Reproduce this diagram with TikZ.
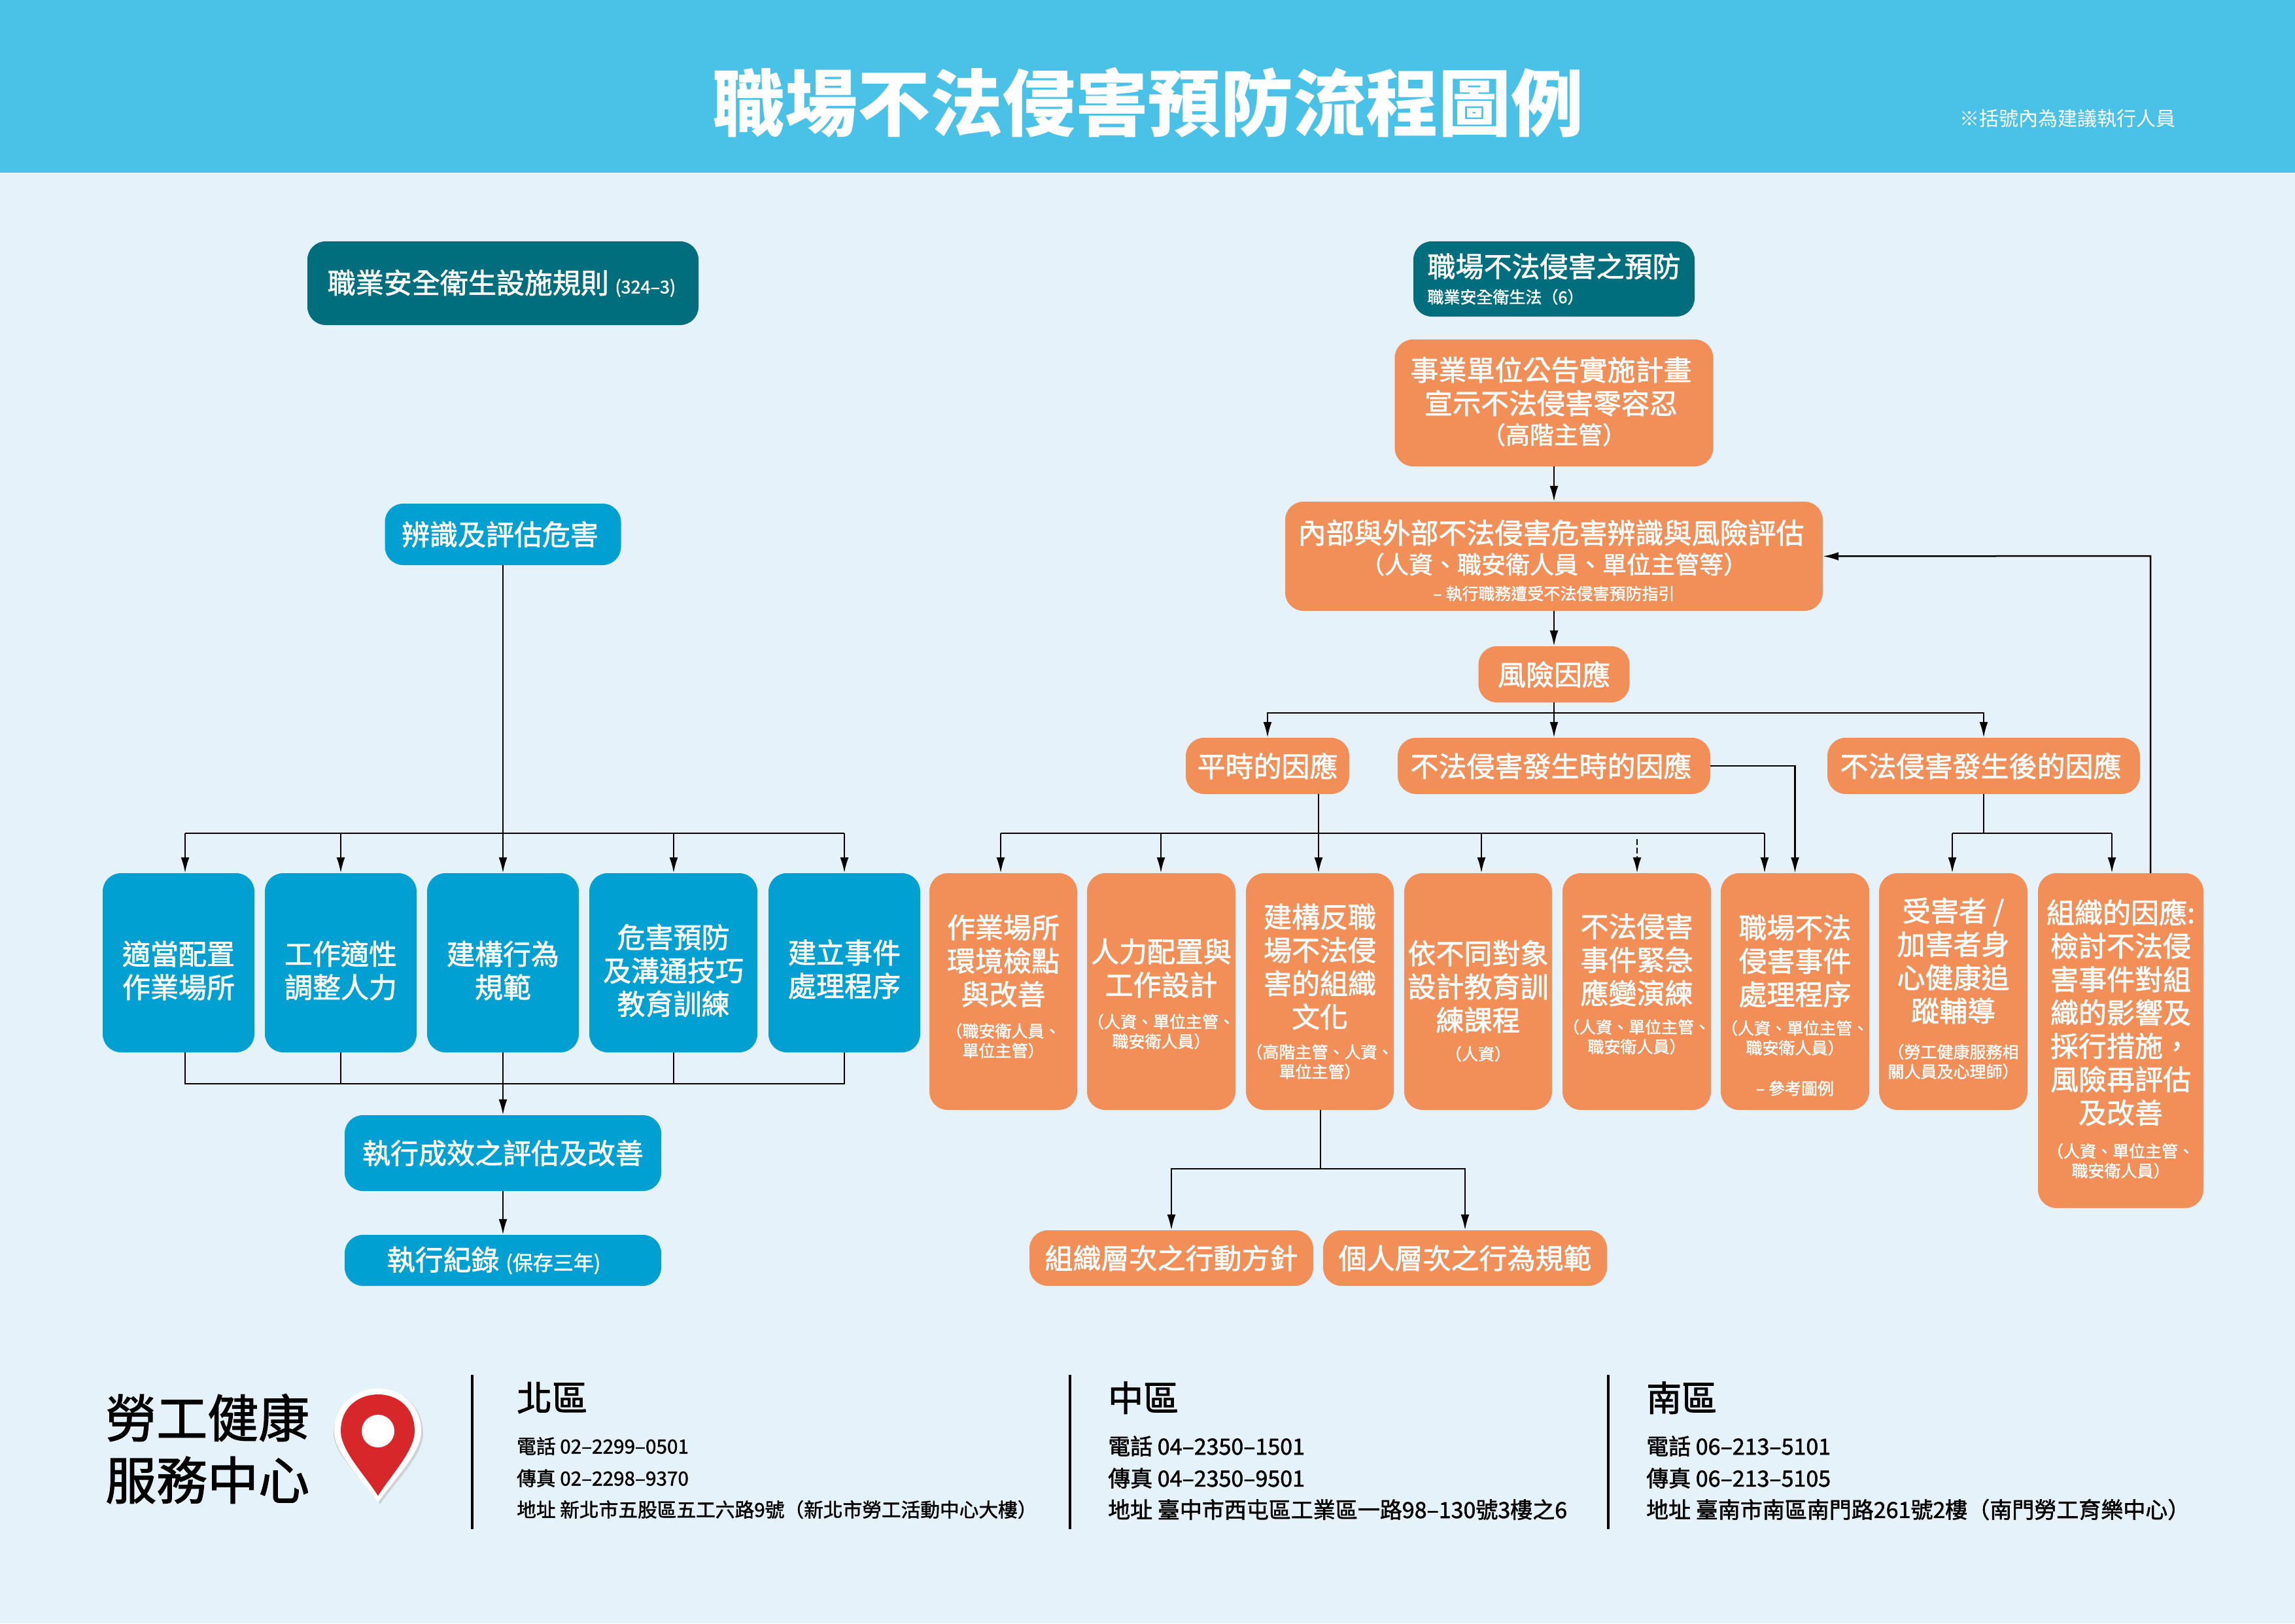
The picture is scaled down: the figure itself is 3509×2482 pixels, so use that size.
\documentclass[tikz,border=0pt]{standalone}
\usepackage{fontspec}
\setmainfont{Noto Sans CJK TC}
\newfontfamily\medfont{Noto Sans CJK TC}[FakeBold=1.6]
\usetikzlibrary{arrows.meta, positioning}
\definecolor{pagebg}{HTML}{E6F2F9}
\definecolor{headbg}{HTML}{4AC1E6}
\definecolor{tealfill}{HTML}{006E7C}
\definecolor{bluefill}{HTML}{00A0D3}
\definecolor{orangefill}{HTML}{F28E58}
\definecolor{pinred}{HTML}{D8272A}
\newcommand{\subtext}[1]{{\fontsize{25}{30}\selectfont #1}}
\newcommand{\midtext}[1]{{\fontsize{37}{45}\selectfont #1}}
\newcommand{\topgap}[1]{\rule{0pt}{#1pt}}
\newcommand{\botgap}[1]{\rule[-#1pt]{0pt}{0pt}}
\newcommand{\nudge}{\kern9pt}
\tikzset{
  flowbox/.style={rounded corners=28, text=white, inner sep=0, align=center,
    font=\fontsize{43}{51}\selectfont\medfont},
  tealbox/.style={flowbox, fill=tealfill},
  bluebox/.style={flowbox, fill=bluefill},
  orangebox/.style={flowbox, fill=orangefill},
  flowline/.style={line width=2.5},
  flowarrow/.style={flowline, -{Latex[length=24,width=13]}},
  infohead/.style={anchor=west, inner sep=0, font=\fontsize{54}{60}\selectfont\medfont},
  infoline/.style={anchor=west, inner sep=0, font=\fontsize{29.7}{36}\selectfont\medfont},
  infowide/.style={anchor=west, inner sep=0, font=\fontsize{34}{40}\selectfont\medfont}
}
\begin{document}
\begin{tikzpicture}[x=1pt, y=-1pt]
\useasboundingbox (0,0) rectangle (3509,2482);
\fill[pagebg] (0,0) rectangle (3509,2482);
\fill[headbg] (0,0) rectangle (3509,264);
\node[text=white, font=\fontsize{111}{120}\selectfont\bfseries] (title) at (1755,157) {職場不法侵害預防流程圖例};
\node[text=white, font=\fontsize{30}{36}\selectfont] (note) at (3161,181) {※括號內為建議執行人員};
\node[tealbox, minimum width=598, minimum height=128] (rules) at (769,433) {職業安全衛生設施規則 {\fontsize{27}{30}\selectfont (324–3)}\kern4pt};
\node[tealbox, minimum width=430, minimum height=115, align=left] (prevent) at (2376,426.5) {職場不法侵害之預防\\[-11pt]{\fontsize{25}{30}\selectfont 職業安全衛生法（6）}};
\node[orangebox, minimum width=487, minimum height=194] (plan) at (2376,616) {事業單位公告實施計畫\nudge\\宣示不法侵害零容忍\nudge\\[-5pt]\midtext{（高階主管）}\botgap{8}};
\node[orangebox, minimum width=822, minimum height=167] (inner) at (2376,850.5) {\topgap{49}內部與外部不法侵害危害辨識與風險評估\nudge\\[-5pt]\midtext{（人資、職安衛人員、單位主管等）}\\[-11pt]\subtext{– 執行職務遭受不法侵害預防指引}};
\node[orangebox, minimum width=231, minimum height=86] (risk) at (2376,1031) {風險因應};
\node[orangebox, minimum width=250, minimum height=86] (daily) at (1938,1171) {平時的因應};
\node[orangebox, minimum width=478, minimum height=86] (during) at (2376,1171) {不法侵害發生時的因應\nudge};
\node[orangebox, minimum width=478, minimum height=86] (after) at (3033,1171) {不法侵害發生後的因應\nudge};
\node[bluebox, minimum width=361, minimum height=94] (identify) at (769,817) {辨識及評估危害\nudge};
\node[bluebox, minimum width=232, minimum height=274] (assign) at (273,1472) {\topgap{60}適當配置\\作業場所};
\node[bluebox, minimum width=232, minimum height=274] (adapt) at (521,1472) {\topgap{60}工作適性\\調整人力};
\node[bluebox, minimum width=232, minimum height=274] (behave) at (769,1472) {\topgap{60}建構行為\\規範};
\node[bluebox, minimum width=257, minimum height=274] (train) at (1029.5,1472) {\topgap{60}危害預防\\及溝通技巧\\教育訓練};
\node[bluebox, minimum width=232, minimum height=274] (handle) at (1291,1472) {\topgap{56}建立事件\\處理程序};
\node[bluebox, minimum width=484, minimum height=116] (evaluate) at (769,1763) {執行成效之評估及改善};
\node[bluebox, minimum width=484, minimum height=78] (record) at (769,1927) {執行紀錄 {\fontsize{31}{34}\selectfont (保存三年)}\kern28pt};
\node[orangebox, minimum width=226, minimum height=362] (site) at (1534,1516) {作業場所\\環境檢點\\與改善\\[-1.5pt]\subtext{（職安衛人員、}\\[-21pt]\subtext{單位主管）}\botgap{18}};
\node[orangebox, minimum width=227, minimum height=362] (staff) at (1775.5,1516) {\topgap{43}人力配置與\\工作設計\\[-1.5pt]\subtext{（人資、單位主管、}\\[-21pt]\subtext{職安衛人員）}};
\node[orangebox, minimum width=226, minimum height=362] (culture) at (2018,1516) {建構反職\\場不法侵\\害的組織\\文化\\[-4pt]\subtext{（高階主管、人資、}\\[-21pt]\subtext{單位主管）}};
\node[orangebox, minimum width=226, minimum height=362] (course) at (2260,1516) {\topgap{65}依不同對象\\設計教育訓\\練課程\\[-6pt]\subtext{（人資）}};
\node[orangebox, minimum width=227, minimum height=362] (drill) at (2502.5,1516) {不法侵害\\事件緊急\\應變演練\\[-6pt]\subtext{（人資、單位主管、}\\[-21pt]\subtext{職安衛人員）}\botgap{26}};
\node[orangebox, minimum width=227, minimum height=362] (incident) at (2744.5,1516) {\topgap{78}職場不法\\侵害事件\\處理程序\\[-6pt]\subtext{（人資、單位主管、}\\[-21pt]\subtext{職安衛人員）}\\[11pt]\subtext{– 參考圖例}};
\node[orangebox, minimum width=227, minimum height=362] (victim) at (2986.5,1516) {受害者 /\\加害者身\\心健康追\\蹤輔導\\[5pt]\subtext{（勞工健康服務相}\\[-21pt]\subtext{關人員及心理師）}\botgap{12}};
\node[orangebox, minimum width=253, minimum height=512] (orgresp) at (3242.5,1591) {組織的因應:\\檢討不法侵\\害事件對組\\織的影響及\\採行措施，\\風險再評估\\及改善\\[1pt]\subtext{（人資、單位主管、}\\[-21pt]\subtext{職安衛人員）}\botgap{8}};
\node[orangebox, minimum width=434, minimum height=85] (orglayer) at (1791,1923.5) {組織層次之行動方針};
\node[orangebox, minimum width=434, minimum height=85] (perslayer) at (2240,1923.5) {個人層次之行為規範};
\coordinate (riskJoin) at (2376,1090);
\coordinate (leftTop) at (769,1274);
\coordinate (leftBottom) at (769,1657);
\coordinate (leftA) at (283,1274);
\coordinate (leftB) at (521,1274);
\coordinate (leftD) at (1030,1274);
\coordinate (leftE) at (1291,1274);
\coordinate (dailyA) at (1530,1274);
\coordinate (dailyB) at (1775,1274);
\coordinate (dailyC) at (2016,1214);
\coordinate (dailyD) at (2265,1274);
\coordinate (dailyE) at (2698,1274);
\coordinate (drillIn) at (2503,1283);
\coordinate (afterJoin) at (3033,1274);
\coordinate (afterA) at (2985,1274);
\coordinate (afterB) at (3229,1274);
\coordinate (layerJoin) at (2019,1787);
\coordinate (loopUp) at (3288,850);
\draw[flowarrow] (plan) -- (inner);
\draw[flowarrow] (inner) -- (risk);
\draw[flowline] (risk) -- (riskJoin);
\draw[flowarrow] (riskJoin) -- (during);
\draw[flowarrow] (riskJoin) -| (daily.north);
\draw[flowarrow] (riskJoin) -| (after.north);
\draw[flowarrow] (identify) -- (behave);
\draw[flowline] (leftA) -- (leftE);
\draw[flowarrow] (leftA) -- (leftA |- assign.north);
\draw[flowarrow] (leftB) -- (leftB |- adapt.north);
\draw[flowarrow] (leftD) -- (leftD |- train.north);
\draw[flowarrow] (leftE) -- (leftE |- handle.north);
\draw[flowline] (leftA |- assign.south) -- (leftA |- leftBottom) -- (leftE |- leftBottom) -- (leftE |- handle.south);
\draw[flowline] (leftB |- adapt.south) -- (leftB |- leftBottom);
\draw[flowline] (behave) -- (leftBottom);
\draw[flowline] (leftD |- train.south) -- (leftD |- leftBottom);
\draw[flowarrow] (leftBottom) -- (evaluate);
\draw[flowarrow] (evaluate) -- (record);
\draw[flowline] (dailyA) -- (dailyE);
\draw[flowarrow] (dailyA) -- (dailyA |- site.north);
\draw[flowarrow] (dailyB) -- (dailyB |- staff.north);
\draw[flowarrow] (dailyC) -- (dailyC |- culture.north);
\draw[flowarrow] (dailyD) -- (dailyD |- course.north);
\draw[flowarrow] (dailyE) -- (dailyE |- incident.north);
\draw[flowarrow, dash pattern=on 9 off 4] (drillIn) -- (drillIn |- drill.north);
\draw[flowarrow] (during.east) -| (incident.north);
\draw[flowline] (after) -- (afterJoin);
\draw[flowline] (afterA) -- (afterB);
\draw[flowarrow] (afterA) -- (afterA |- victim.north);
\draw[flowarrow] (afterB) -- (afterB |- orgresp.north);
\draw[flowarrow] (loopUp |- orgresp.north) -- (loopUp) -- (inner.east);
\draw[flowline] (layerJoin |- culture.south) -- (layerJoin);
\draw[flowarrow] (layerJoin) -| (orglayer.north);
\draw[flowarrow] (layerJoin) -| (perslayer.north);
\node[anchor=west, inner sep=0, align=left, font=\fontsize{78}{95}\selectfont\medfont] (hub) at (161,2215) {勞工健康\\服務中心};
\fill[black!25, opacity=0.6] (510,2192) .. controls (510,2150) and (544,2125) .. (580,2125) .. controls (616,2125) and (647,2150) .. (647,2192) .. controls (647,2225) and (605,2265) .. (581,2300) .. controls (558,2265) and (510,2225) .. (510,2192) -- cycle;
\fill[white] (511,2188) .. controls (511,2148) and (544,2123) .. (578,2123) .. controls (612,2123) and (644,2148) .. (644,2188) .. controls (644,2222) and (602,2262) .. (578,2297) .. controls (554,2262) and (511,2222) .. (511,2188) -- cycle;
\fill[pinred] (521,2188) .. controls (521,2150) and (550,2132) .. (578,2132) .. controls (606,2132) and (634,2150) .. (634,2188) .. controls (634,2218) and (598,2255) .. (578,2287) .. controls (558,2255) and (521,2218) .. (521,2188) -- cycle;
\fill[white] (578,2188) circle (25);
\draw[line width=4] (722,2102) -- (722,2338);
\draw[line width=4] (1636,2102) -- (1636,2338);
\draw[line width=4] (2459,2102) -- (2459,2338);
\node[infohead] (northhead) at (790,2137) {北區};
\node[infoline] (northtel) at (790,2211) {電話 02–2299–0501};
\node[infoline] (northfax) at (790,2260) {傳真 02–2298–9370};
\node[infoline] (northaddr) at (790,2308) {地址 新北市五股區五工六路9號（新北市勞工活動中心大樓）};
\node[infohead] (midhead) at (1694,2137) {中區};
\node[infowide] (midtel) at (1694,2211) {電話 04–2350–1501};
\node[infowide] (midfax) at (1694,2260) {傳真 04–2350–9501};
\node[infowide] (midaddr) at (1694,2308) {地址 臺中市西屯區工業區一路98–130號3樓之6};
\node[infohead] (southhead) at (2517,2137) {南區};
\node[infowide] (southtel) at (2517,2211) {電話 06–213–5101};
\node[infowide] (southfax) at (2517,2260) {傳真 06–213–5105};
\node[infowide] (southaddr) at (2517,2308) {地址 臺南市南區南門路261號2樓（南門勞工育樂中心）};
\end{tikzpicture}
\end{document}
